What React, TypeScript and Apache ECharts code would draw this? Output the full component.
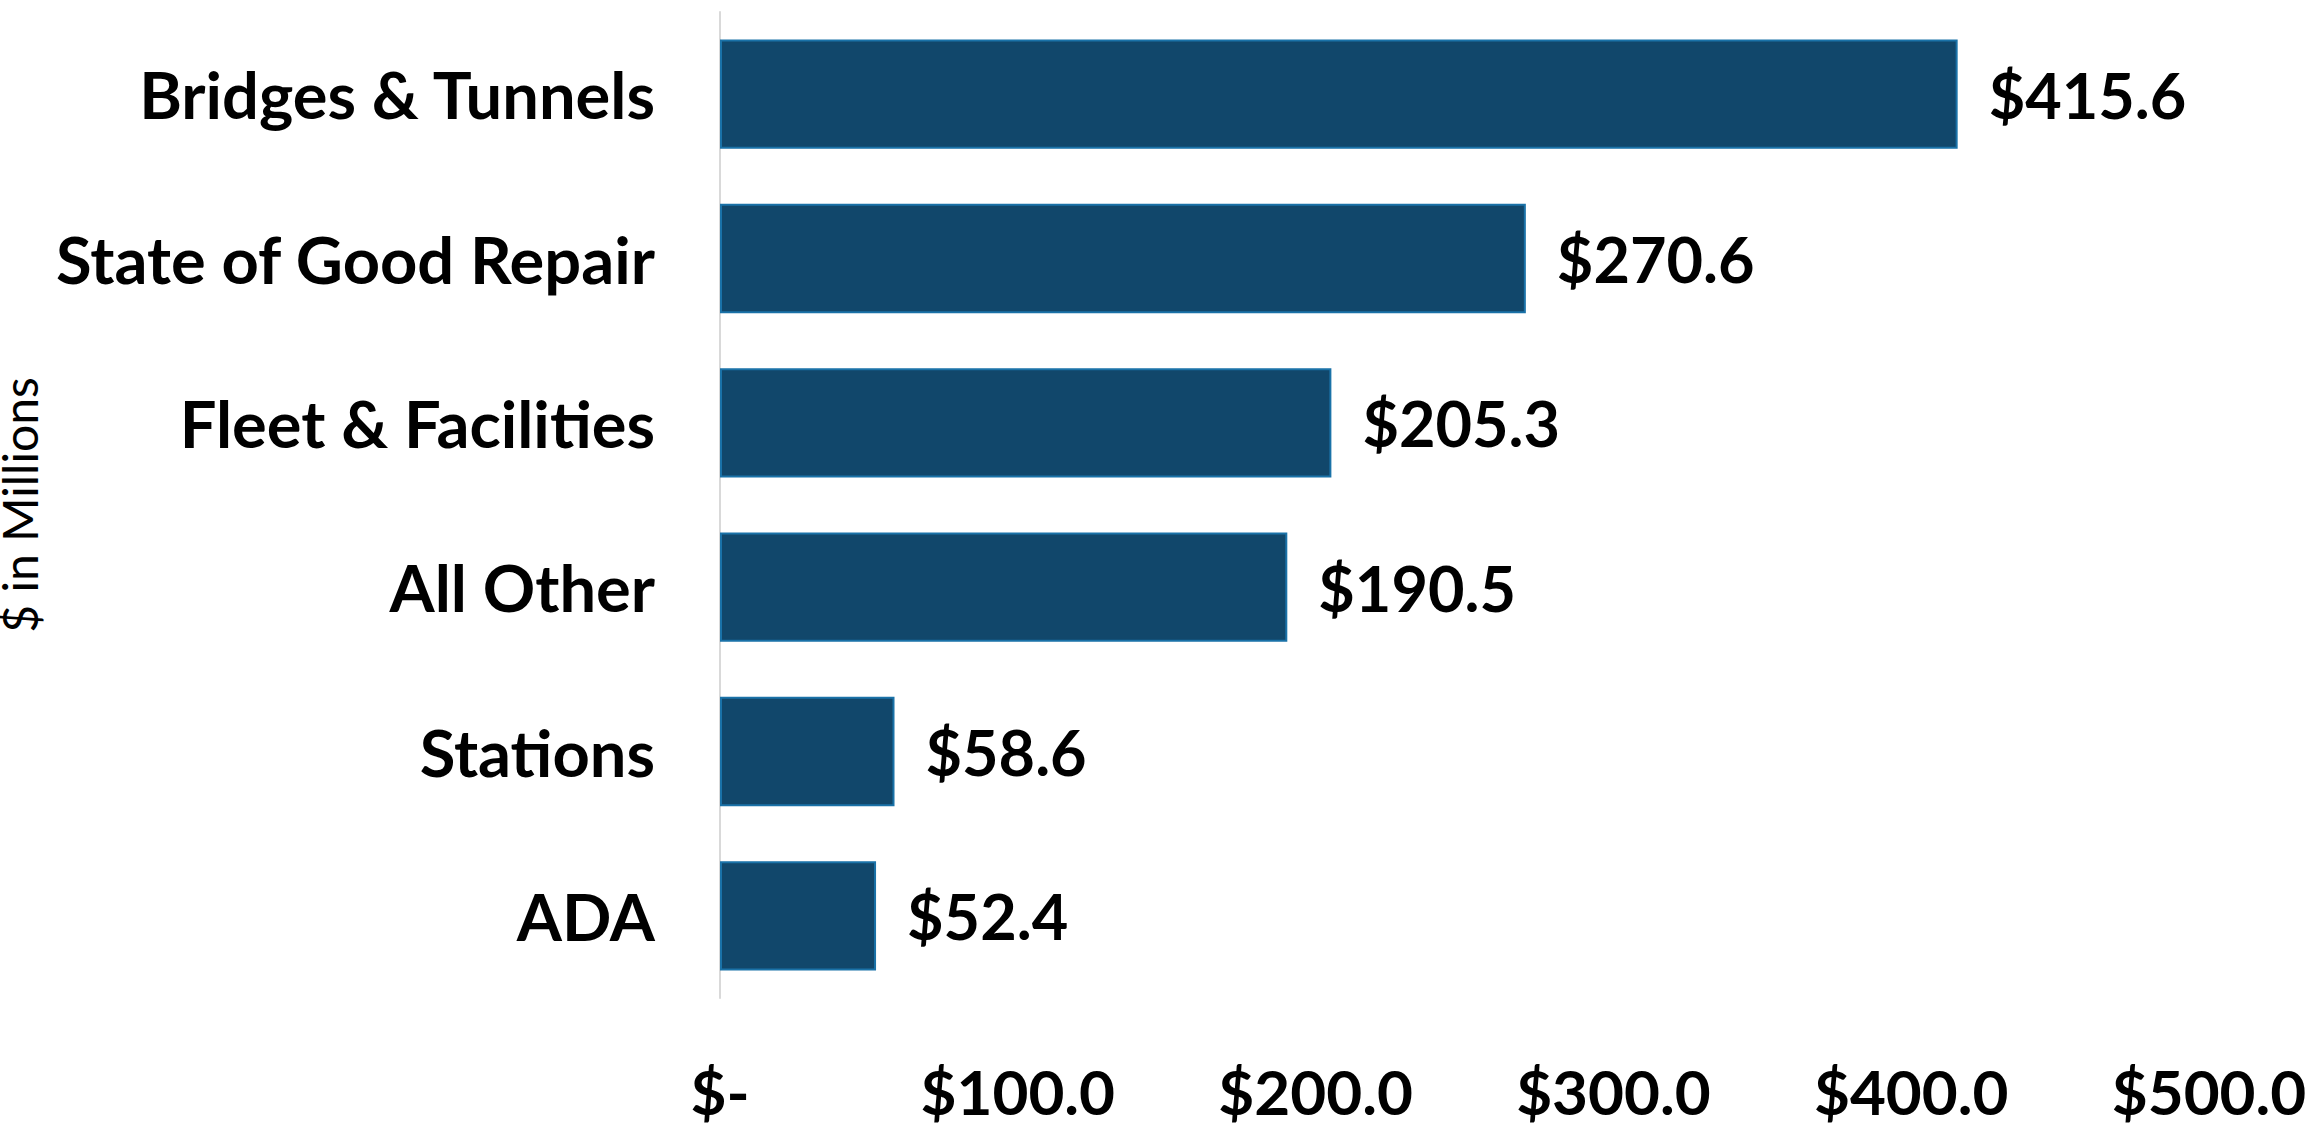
import React, { useEffect, useRef } from "react";
import * as echarts from "echarts";

const categories = ["Bridges & Tunnels", "State of Good Repair", "Fleet & Facilities", "All Other", "Stations", "ADA"];
const values = [415.6, 270.6, 205.3, 190.5, 58.6, 52.4];
const xTicks = [0, 100, 200, 300, 400, 500];
const axisName = "$ in Millions";

const FONT = "Lato, 'Open Sans', sans-serif";

export default function App() {
  const ref = useRef<HTMLDivElement>(null);
  useEffect(() => {
    document.body.style.margin = "0";
    if (!ref.current) return;
    const chart = echarts.init(ref.current, null, { renderer: "svg" });
    chart.setOption({
      animation: false,
      backgroundColor: "#ffffff",
      grid: { left: 720, right: 108, top: 12, bottom: 133, containLabel: false, outerBoundsMode: "none" },
      xAxis: {
        type: "value",
        min: xTicks[0],
        max: xTicks[xTicks.length - 1],
        interval: 100,
        axisLine: { show: false },
        axisTick: { show: false },
        splitLine: { show: false },
        axisLabel: {
          margin: 62,
          fontFamily: FONT,
          fontWeight: "bold",
          fontSize: 62,
          color: "#000000",
          formatter: (v: number) => (v === 0 ? "$-" : "$" + v.toFixed(1)),
        },
      },
      yAxis: {
        type: "category",
        data: categories,
        inverse: true,
        name: axisName,
        nameLocation: "middle",
        nameRotate: 90,
        nameGap: 664,
        nameTextStyle: { fontFamily: FONT, fontSize: 48, lineHeight: 48, color: "#000000" },
        axisLine: { show: true, lineStyle: { color: "#d9d9d9", width: 2 } },
        axisTick: { show: false },
        axisLabel: {
          margin: 65,
          fontFamily: FONT,
          fontWeight: "bold",
          fontSize: 65,
          color: "#000000",
        },
      },
      series: [
        {
          type: "bar",
          data: values,
          barCategoryGap: "33.5%",
          itemStyle: { color: "#11476b", borderColor: "#1a72a8", borderWidth: 2 },
          label: {
            show: true,
            position: "right",
            distance: 31,
            fontFamily: FONT,
            fontWeight: "bold",
            fontSize: 63,
            color: "#000000",
            formatter: (p: any) => "$" + Number(p.value).toFixed(1),
          },
        },
      ],
    });
    return () => chart.dispose();
  }, []);
  return <div ref={ref} style={{ width: 2317, height: 1131 }} />;
}
